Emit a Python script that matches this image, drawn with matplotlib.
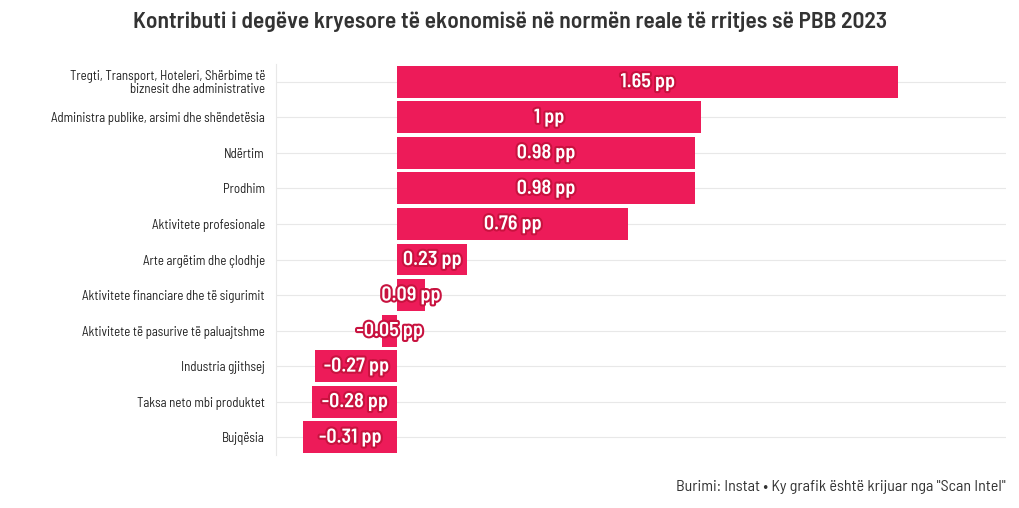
import matplotlib.pyplot as plt
import matplotlib.patheffects as pe

# Data
categories = [
    "Tregti, Transport, Hoteleri, Shërbime të\nbiznesit dhe administrative",
    "Administra publike, arsimi dhe shëndetësia",
    "Ndërtim",
    "Prodhim",
    "Aktivitete profesionale",
    "Arte argëtim dhe çlodhje",
    "Aktivitete financiare dhe të sigurimit",
    "Aktivitete të pasurive të paluajtshme",
    "Industria gjithsej",
    "Taksa neto mbi produktet",
    "Bujqësia",
]
values = [1.65, 1.0, 0.98, 0.98, 0.76, 0.23, 0.09, -0.05, -0.27, -0.28, -0.31]
value_labels = ["1.65 pp", "1 pp", "0.98 pp", "0.98 pp", "0.76 pp", "0.23 pp",
                "0.09 pp", "-0.05 pp", "-0.27 pp", "-0.28 pp", "-0.31 pp"]

bar_color = "#ED1B59"

plt.rcParams["font.family"] = ["Barlow Semi Condensed", "DejaVu Sans"]

fig = plt.figure(figsize=(10.2, 5.08), dpi=100)
ax = fig.add_axes([276 / 1020, 1 - 455 / 508, (1006 - 276) / 1020, (455 - 64) / 508])

y = list(range(len(categories)))
ax.barh(y, values, height=0.9, color=bar_color, zorder=2)

for yi, v, lab in zip(y, values, value_labels):
    ax.text(v / 2, yi, lab, ha="center", va="center", color="white",
            fontsize=14.5, fontweight="semibold", zorder=3,
            path_effects=[pe.withStroke(linewidth=3, foreground="#C8123F")])

ax.set_xlim(-0.4, 2.006)
ax.set_ylim(len(categories) - 0.5, -0.5)
ax.set_yticks(y)
ax.set_yticklabels(categories, fontsize=9.3, color="#222222", linespacing=1.0)
ax.tick_params(axis="y", length=0, pad=8)
ax.set_xticks([])
ax.grid(axis="y", color="#E8E8E8", linewidth=0.8, zorder=0)
for s in ["top", "right", "bottom"]:
    ax.spines[s].set_visible(False)
ax.spines["left"].set_color("#E8E8E8")
ax.spines["left"].set_linewidth(0.8)

fig.text(0.5, 1 - 22 / 508, "Kontributi i degëve kryesore të ekonomisë në normën reale të rritjes së PBB 2023",
         ha="center", va="center", fontsize=16.9, fontweight="semibold", color="#333333")
fig.text(1006 / 1020, 1 - 487 / 508, 'Burimi: Instat • Ky grafik është krijuar nga "Scan Intel"',
         ha="right", va="center", fontsize=11.5, color="#333333")

fig.savefig("out.png", dpi=100)
